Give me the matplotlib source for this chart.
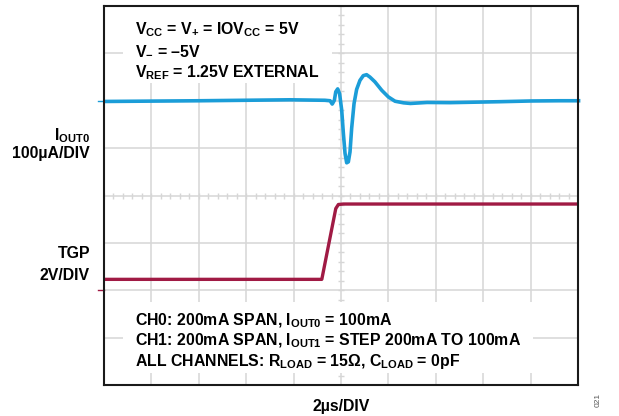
import matplotlib
matplotlib.use("Agg")
import matplotlib.pyplot as plt
from matplotlib.patches import Rectangle
import numpy as np

plt.rcParams["font.family"] = ["Liberation Sans", "DejaVu Sans"]
plt.rcParams["font.weight"] = "bold"
plt.rcParams["mathtext.fontset"] = "custom"
plt.rcParams["mathtext.rm"] = "Liberation Sans:bold"
plt.rcParams["mathtext.it"] = "Liberation Sans:bold"
plt.rcParams["mathtext.bf"] = "Liberation Sans:bold"
plt.rcParams["mathtext.default"] = "rm"

# Scope settings
TIME_PER_DIV = 2.0      # µs/div
IOUT_PER_DIV = 100.0    # µA/div
TGP_PER_DIV = 2.0       # V/div
IOUT_GND_DIV = 6.0      # channel ground markers (divisions from bottom)
TGP_GND_DIV = 2.0

# IOUT0 trace (µA relative to its ground marker)
iout_t = [-10.0, -5.95, -2.15, -0.68, -0.46, -0.37, -0.28, -0.22, -0.14, -0.06,
          0.03, 0.10, 0.17, 0.24, 0.31, 0.38, 0.45, 0.55, 0.66, 0.80, 0.94,
          1.08, 1.22, 1.43, 1.72, 2.00, 2.28, 2.64, 2.93, 3.63, 4.6, 6.7,
          8.0, 9.2, 10.1]
iout_ua = [-1.5, 0.0, 2.0, 1.0, 0.0, -7.0, 1.0, 19.0, 25.0, 15.0,
           -20.0, -69.0, -111.0, -131.0, -129.0, -108.0, -58.0, -6.0, 24.0, 43.0, 53.0,
           55.0, 50.0, 40.0, 22.0, 8.0, -1.0, -4.4, -5.7, -3.6, -4.0, -2.0,
           -0.5, 0.0, 0.0]

# TGP trace (V)
tgp_t = [-10.0, -0.81, -0.22, -0.11, 0.1, 10.0]
tgp_v = [0.46, 0.46, 3.45, 3.62, 3.64, 3.64]

fig = plt.figure(figsize=(6.19, 4.16), dpi=100)
ax = fig.add_axes([104 / 619, 31 / 416, 474 / 619, 379 / 416])
ax.set_xlim(-10, 10)
ax.set_ylim(0, 8)

grid_c = "#d6d6d6"
for xv in np.arange(-8, 10, 2):
    ax.axvline(xv, color=grid_c, lw=1.1, zorder=1)
for yv in np.arange(1, 8):
    ax.axhline(yv, color=grid_c, lw=1.1, zorder=1)

# minor ticks on center graticule lines
minor_x = np.arange(-10, 10.01, 0.4)
minor_y = np.arange(0, 8.01, 0.2)
ax.plot(minor_x, np.full_like(minor_x, 4.0), ls="none", marker="|",
        ms=5, mew=1.0, color=grid_c, zorder=1)
ax.plot(np.zeros_like(minor_y), minor_y, ls="none", marker="_",
        ms=5, mew=1.0, color=grid_c, zorder=1)

# white panels behind annotation text
ax.add_patch(Rectangle((0.040, 0.797), 0.44, 0.21, transform=ax.transAxes,
                       facecolor="white", edgecolor="none", zorder=2))
ax.add_patch(Rectangle((0.040, 0.032), 0.865, 0.187, transform=ax.transAxes,
                       facecolor="white", edgecolor="none", zorder=2))

blue = "#1b9dd8"
red = "#a01a44"

iout_div = IOUT_GND_DIV + np.array(iout_ua) / IOUT_PER_DIV
tgp_div = TGP_GND_DIV + np.array(tgp_v) / TGP_PER_DIV
t_iout = np.array(iout_t)
t_tgp = np.array(tgp_t)

ax.plot(t_tgp, tgp_div, color=red, lw=2.4, zorder=4, solid_joinstyle="round")
ax.plot(t_iout, iout_div, color=blue, lw=2.6, zorder=5, clip_on=False,
        solid_joinstyle="round", solid_capstyle="butt")

# ground reference markers
yt = ax.get_yaxis_transform()
ax.plot([-0.013, 0.0], [IOUT_GND_DIV, IOUT_GND_DIV], transform=yt,
        color=blue, lw=1.0, clip_on=False)
ax.plot([-0.013, 0.0], [TGP_GND_DIV, TGP_GND_DIV], transform=yt,
        color=red, lw=1.0, clip_on=False)

for s in ax.spines.values():
    s.set_linewidth(1.5)
    s.set_color("#1a1a1a")
    s.set_zorder(6)
ax.set_xticks([])
ax.set_yticks([])

fs = 11.4


def put(x, y, s, **kw):
    fig.text(x / 619, 1 - y / 416, s, fontsize=kw.pop("fontsize", fs),
             fontweight=kw.pop("fontweight", "bold"), va="baseline", **kw)


top_lines = ["V$_{CC}$ = V$_{+}$ = IOV$_{CC}$ = 5V",
             "V$_{-}$ = –5V",
             "V$_{REF}$ = 1.25V EXTERNAL"]
for s, y in zip(top_lines, [34.5, 55.0, 77.0]):
    put(135, y, s, ha="left", zorder=7)

bot_lines = ["CH0: 200mA SPAN, I$_{OUT0}$ = 100mA",
             "CH1: 200mA SPAN, I$_{OUT1}$ = STEP 200mA TO 100mA",
             "ALL CHANNELS: R$_{LOAD}$ = 15Ω, C$_{LOAD}$ = 0pF"]
for s, y in zip(bot_lines, [325.0, 345.5, 366.0]):
    put(135, y, s, ha="left", zorder=7)

side = [("I$_{OUT0}$", 140.5), ("100µA/DIV", 158.0), ("TGP", 257.5), ("2V/DIV", 280)]
for s, y in side:
    put(90, y, s, ha="right")

put(341, 410.5, "2µs/DIV", ha="center")
fig.text(598 / 619, 1 - 400 / 416, "021", fontsize=6, fontweight="normal",
         color="#555555", rotation=90, ha="center", va="center")

fig.savefig("out.png", dpi=100)
